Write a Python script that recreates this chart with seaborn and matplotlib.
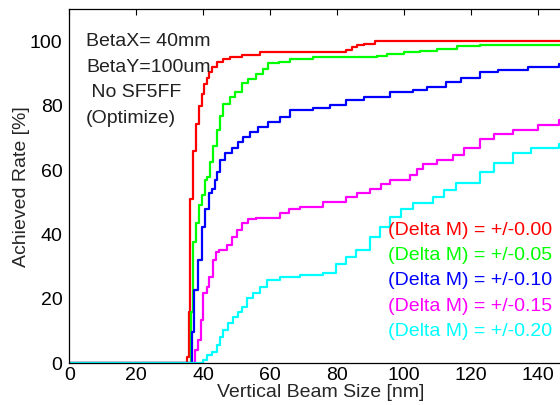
"""
Achieved rate vs vertical beam size for several Delta M tolerances.
"""

import matplotlib
matplotlib.use('Agg')
import matplotlib.pyplot as plt
import seaborn as sns
import pandas as pd

# Step curves (x = beam size [nm], y = achieved rate [%])
red_x = [0, 35.0, 35.6, 36.0, 36.8, 37.8, 38.8, 39.7, 40.3, 41.0, 41.8, 42.5, 44.0,
         46.0, 48.0, 51.5, 57.0, 82.8, 84.5, 86.0, 88.0, 91.3, 150]
red_y = [0, 2, 16, 51, 66, 74.5, 80, 83.6, 86.8, 88.7, 90.4, 92, 93.5,
         94.6, 95.3, 95.9, 96.6, 97.5, 98.3, 98.8, 99.3, 100, 100]

green_x = [0, 36.2, 36.8, 37.8, 38.8, 39.6, 40.6, 41.0, 42.0, 43.0, 44.0, 45.0, 46.0,
           48.0, 49.5, 51.5, 53.4, 55.8, 57.8, 59.4, 62.5, 66.0, 72.8, 91.8, 95.0,
           100.0, 104.7, 110.0, 116.0, 122.6, 150]
green_y = [0, 16, 37.8, 43.5, 49.2, 52.3, 57, 57.9, 62.5, 67.5, 72.5, 77, 80.5,
           82.6, 84.3, 87, 88.5, 90, 91.6, 93.2, 93.6, 94.5, 95.1, 95.6, 96.2,
           96.8, 97.2, 97.8, 98.5, 99, 99]

blue_x = [0, 36.5, 37.3, 38.5, 39.6, 40.6, 41.6, 42.5, 43.5, 44.0, 45.0, 46.5, 48.5,
          50.5, 52.0, 54.0, 56.5, 59.4, 62.9, 65.9, 72.8, 78.0, 82.8, 88.0, 95.7,
          102.7, 107.0, 112.7, 117.0, 122.6, 128.0, 132.5, 137.0, 146.5, 150]
blue_y = [0, 9.8, 22.8, 32, 42.4, 48.1, 52.8, 54.3, 57, 59.5, 63.1, 65.2, 66.8,
          68.8, 70.4, 71.9, 73.5, 75, 76.5, 78.6, 79.4, 80.3, 81.7, 82.8, 84.3,
          85, 86, 87.4, 88.8, 90.5, 91, 91.2, 92, 93, 93.3]

magenta_x = [0, 37.6, 38.5, 39.2, 40.0, 41.0, 41.8, 42.8, 43.9, 44.8, 47.0, 48.5,
             50.0, 51.5, 53.4, 55.8, 62.9, 65.5, 68.9, 75.8, 82.8, 86.0, 89.8, 93.0,
             95.7, 101.7, 104.0, 105.7, 110.0, 114.6, 118.0, 122.6, 127.0, 132.5,
             140.0, 146.5, 150]
magenta_y = [0, 4, 7.2, 13.4, 21.7, 23.8, 26.9, 32, 34.7, 35.2, 36.7, 39.3,
             41.4, 43.5, 44.7, 45.2, 46.6, 47.8, 48.6, 50.2, 51.7, 53, 54.3, 55.8,
             56.9, 58.4, 60.5, 62, 63.3, 64.7, 67, 69.8, 71.2, 72.4,
             74.2, 75.5, 75.8]

cyan_x = [0, 40.0, 41.0, 42.5, 44.0, 45.0, 46.0, 47.5, 49.0, 50.5, 51.5, 53.0, 55.0,
          57.0, 59.0, 62.9, 68.9, 75.8, 79.8, 82.8, 85.8, 89.8, 92.7, 95.7, 99.0,
          102.7, 108.7, 112.0, 115.6, 122.6, 127.0, 132.5, 138.0, 146.5, 150]
cyan_y = [0, 1, 2.6, 3.6, 5.7, 8.3, 10.3, 12.4, 14.5, 16, 17.6, 20.2, 21.7,
          23.8, 25.9, 26.9, 27.4, 28, 31, 33, 35.2, 39.3, 42.5, 45.5, 47.8,
          49.7, 51.7, 53.8, 55.9, 59.5, 62.3, 65.2, 66.8, 68.3, 68.6]

series_labels = ['(Delta M) = +/-0.00', '(Delta M) = +/-0.05', '(Delta M) = +/-0.10',
                 '(Delta M) = +/-0.15', '(Delta M) = +/-0.20']
series_colors = ['#ff0000', '#00ff00', '#0000ff', '#ff00ff', '#00ffff']
note_lines = ['BetaX= 40mm', 'BetaY=100um', ' No SF5FF', '(Optimize)']

sns.set_style('white')
plt.rcParams['font.family'] = ['Liberation Sans', 'DejaVu Sans']

fig = plt.figure(figsize=(5.6, 4.05), dpi=100)
ax = fig.add_axes([0.124, 0.103, 0.896, 0.874])

curves = [(red_x, red_y), (green_x, green_y), (blue_x, blue_y),
          (magenta_x, magenta_y), (cyan_x, cyan_y)]
for (xs, ys), label, color in zip(curves, series_labels, series_colors):
    df = pd.DataFrame({'size': xs, 'rate': ys})
    sns.lineplot(data=df, x='size', y='rate', ax=ax, color=color, lw=1.6,
                 drawstyle='steps-post', estimator=None, sort=False)

ax.set_xlim(0, 150)
ax.set_ylim(0, 110)
ax.set_xticks(range(0, 141, 20))
ax.set_yticks(range(0, 101, 20))
ax.tick_params(direction='in', top=True, right=True, length=4, width=0.8,
               labelsize=14, colors='black')
ax.tick_params(axis='x', pad=3)
ax.tick_params(axis='y', pad=5)
for sp in ax.spines.values():
    sp.set_color('black')
    sp.set_linewidth(0.9)

ax.set_xlabel('Vertical Beam Size [nm]', fontsize=14, labelpad=0)
ax.set_ylabel('Achieved Rate [%]', fontsize=14, labelpad=0)

# parameter notes, upper left
for i, line in enumerate(note_lines):
    ax.text(5, 100 - 8 * i, line, fontsize=14, va='center', ha='left', color='#222222')

# coloured legend text, lower right
for i, (label, color) in enumerate(zip(series_labels, series_colors)):
    ax.text(95.3, 41.4 - 7.9 * i, label, fontsize=14, va='center', ha='left', color=color)

fig.savefig('out.png', dpi=100)
